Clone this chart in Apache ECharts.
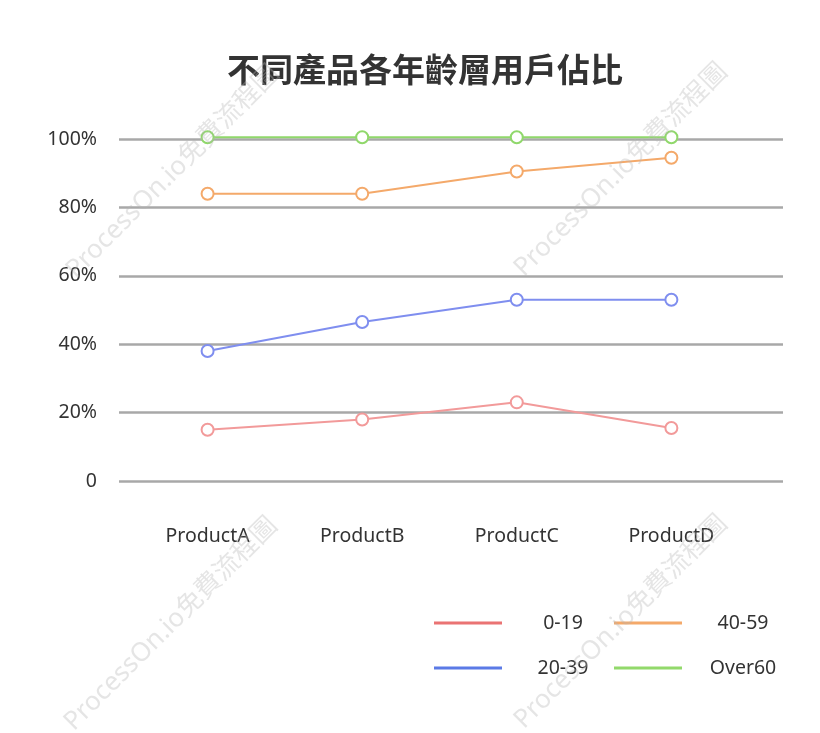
<!DOCTYPE html>
<html>
<head>
<meta charset="utf-8">
<title>不同產品各年齡層用戶佔比</title>
<script src="https://cdn.jsdelivr.net/npm/echarts@6/dist/echarts.min.js"></script>
<style>
  html, body { margin: 0; padding: 0; background: #fff; }
  #main { width: 820px; height: 733px; }
</style>
</head>
<body>
<div id="main"></div>
<script>
// 數據
var products = ['ProductA', 'ProductB', 'ProductC', 'ProductD'];
var ageGroups = ['0-19', '20-39', '40-59', 'Over60'];
var age0_19 = [15, 18, 23, 15.5];
var age20_39 = [38, 46.5, 53, 53];
var age40_59 = [84, 84, 90.5, 94.5];
var ageOver60 = [100.5, 100.5, 100.5, 100.5];
var yTicks = [0, 20, 40, 60, 80, 100];

var lineColors = ['#f29a9a', '#7f8eef', '#f4a96a', '#90d86b'];
var legendColors = ['#ea7373', '#5b7ae6', '#f4a96a', '#92d96b'];

var myChart = echarts.init(document.getElementById('main'));

function toPoints(arr) {
	var res = [];
	for (var i = 0; i < arr.length; i++) {
		res.push([i, arr[i]]);
	}
	return res;
}

function makeSeries(name, arr, idx) {
	return {
		name : name,
		type : 'line',
		data : toPoints(arr),
		symbol : 'emptyCircle',
		symbolSize : 12,
		clip : false,
		lineStyle : { color : lineColors[idx], width : 2 },
		itemStyle : { color : lineColors[idx], borderWidth : 2 }
	};
}

function legendData(names, offset) {
	var res = [];
	for (var i = 0; i < names.length; i++) {
		res.push({
			name : names[i],
			itemStyle : { color : legendColors[offset + i] }
		});
	}
	return res;
}

var legendText = {
	formatter : function(name) { return '{a|' + name + '}'; },
	textStyle : {
		rich : {
			a : { width : 112, align : 'center', fontSize : 19.5, color : '#333',
				lineHeight : 20, fontFamily : 'Noto Sans' }
		}
	}
};

// 水印
var marks = [[173, 172], [621, 170], [171, 624], [621, 622]];
var graphics = [];
for (var m = 0; m < marks.length; m++) {
	graphics.push({
		type : 'text',
		x : marks[m][0],
		y : marks[m][1],
		rotation : Math.PI / 4,
		z : 100,
		silent : true,
		style : {
			text : 'ProcessOn.io免費流程圖',
			fill : 'rgba(180,180,180,0.35)',
			font : '26px "Noto Sans", "Noto Sans CJK TC"',
			align : 'center',
			verticalAlign : 'middle'
		}
	});
}

var option = {
	backgroundColor : '#fff',
	animation : false,
	title : {
		text : '不同產品各年齡層用戶佔比',
		left : 420,
		top : 48,
		textAlign : 'center',
		textStyle : {
			fontFamily : 'Noto Sans CJK TC',
			fontSize : 33,
			fontWeight : 'bold',
			color : '#333'
		}
	},
	legend : [ {
		orient : 'vertical',
		left : 434,
		top : 613,
		padding : 0,
		itemWidth : 68,
		itemHeight : 3,
		itemGap : 25,
		icon : 'rect',
		data : legendData(['0-19', '20-39'], 0),
		formatter : legendText.formatter,
		textStyle : legendText.textStyle
	}, {
		orient : 'vertical',
		left : 614,
		top : 613,
		padding : 0,
		itemWidth : 68,
		itemHeight : 3,
		itemGap : 25,
		icon : 'rect',
		data : legendData(['40-59', 'Over60'], 2),
		formatter : legendText.formatter,
		textStyle : legendText.textStyle
	} ],
	grid : {
		left : 119,
		right : 37,
		top : 139,
		bottom : 252
	},
	xAxis : {
		type : 'value',
		min : -0.573,
		max : 3.722,
		axisLine : { show : false },
		axisTick : { show : false },
		splitLine : { show : false },
		axisLabel : {
			customValues : [0, 1, 2, 3],
			margin : 45,
			fontSize : 19.5,
			color : '#333',
			fontFamily : 'Noto Sans',
			formatter : function(v) { return products[Math.round(v)]; }
		}
	},
	yAxis : {
		type : 'value',
		min : yTicks[0],
		max : yTicks[yTicks.length - 1],
		interval : 20,
		axisLine : { show : false },
		axisTick : { show : false },
		splitLine : { lineStyle : { color : '#a8a8a8', width : 2.5 } },
		axisLabel : {
			margin : 22,
			fontSize : 19.5,
			color : '#333',
			fontFamily : 'Noto Sans',
			formatter : function(v) { return v === 0 ? '0' : v + '%'; }
		}
	},
	graphic : graphics,
	series : [
		makeSeries(ageGroups[0], age0_19, 0),
		makeSeries(ageGroups[1], age20_39, 1),
		makeSeries(ageGroups[2], age40_59, 2),
		makeSeries(ageGroups[3], ageOver60, 3)
	]
};

myChart.setOption(option);
</script>
</body>
</html>
